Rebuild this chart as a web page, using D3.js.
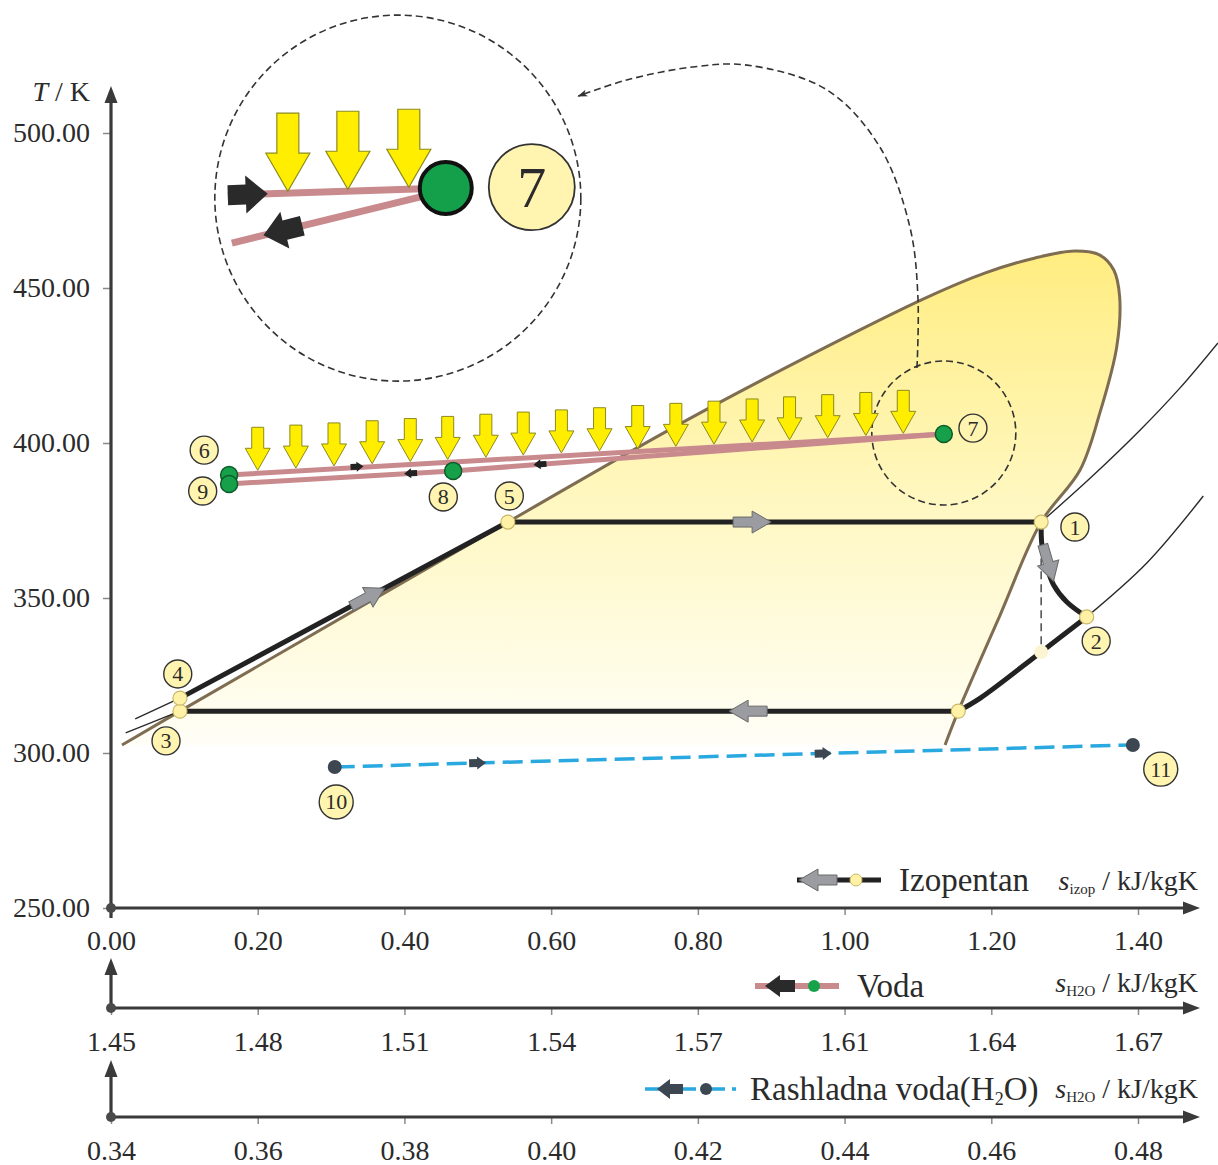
<!DOCTYPE html>
<html><head><meta charset="utf-8">
<script src="https://cdn.jsdelivr.net/npm/d3@7"></script>
<style>
body{margin:0;background:#fff}
svg{display:block}
text{font-family:"Liberation Serif","Times New Roman",serif;fill:#2b2b2b}
</style>
</head><body>
<svg id="chart" width="1218" height="1165"></svg>
<script>
// ---------------- DATA ----------------
const izopTicks = [0, 0.2, 0.4, 0.6, 0.8, 1.0, 1.2, 1.4];
const tempTicks = [250, 300, 350, 400, 450, 500];
const vodaTickLabels = ["1.45","1.48","1.51","1.54","1.57","1.61","1.64","1.67"];
const rashTicks = [0.34, 0.36, 0.38, 0.40, 0.42, 0.44, 0.46, 0.48];

// saturation dome of isopentane [s, T]
const saturationDome = [[0.015,302.6],[0.094,313.5],[0.541,374.5],[0.785,407.4],[1.021,436.5],[1.116,447.4],
  [1.191,454.8],[1.260,459.7],[1.314,461.9],[1.348,460.6],[1.367,455.8],[1.375,447.1],[1.371,431.0],[1.348,409.7],
  [1.321,391.3],[1.268,374.5],[1.212,344.5],[1.155,313.5],[1.137,302.6]];
// cycle state points (isopentane)
const cyclePoints = {1:[1.268,374.5], 2:[1.330,343.9], 3:[0.094,313.5], 4:[0.094,317.7], 5:[0.541,374.5]};
const condensStart = [1.155,313.5];
const isentropicEnd = [1.268,332.6];
const expansionLine = [[1.268,374.5],[1.269,367.1],[1.275,360.6],[1.285,354.2],[1.303,348.7],[1.330,343.9]];
const desuperheatLine = [[1.330,343.9],[1.268,332.6],[1.185,317.7],[1.155,313.5]];
const highIsobarThin = [[1.268,374.5],[1.335,388.7],[1.403,404.2],[1.457,417.7],[1.509,432.3]];
const highIsobarLeft = [[0.033,311.0],[0.094,317.7]];
const lowIsobarThin = [[1.330,343.9],[1.412,361.3],[1.489,382.9]];
const lowIsobarLeft = [[0.020,306.5],[0.094,313.5]];
const labelPos = {1:[1.314,372.9],2:[1.343,336.1],3:[0.075,303.9],4:[0.091,325.5],5:[0.543,382.9]};

// water (heat source), on s_H2O scale
const waterPoints = {6:[1.4753,389.7], 7:[1.6284,402.9], 8:[1.5233,391.0], 9:[1.4753,386.8]};
const waterLabelPos = {6:[0.127,397.7],7:[1.175,404.8],8:[0.453,382.6],9:[0.125,384.5]};
const heatArrowS = [0.200,0.252,0.304,0.356,0.408,0.459,0.511,0.562,0.614,0.666,0.718,0.770,0.822,0.874,0.925,0.977,1.029,1.080];

// cooling water, on second s_H2O scale
const coolingPoints = {10:[0.3705,295.5], 11:[0.4793,302.6]};
const coolingLabelPos = {10:[0.307,284.2], 11:[1.431,294.8]};

// callout (zoom) geometry
const calloutPath = [[1.0987,424.2],[1.100,447.1],[1.089,469.7],[1.048,495.5],[0.976,513.9],[0.867,521.9],[0.793,521.3],[0.703,517.1],[0.637,511.9]];
const zoomCenter = [0.391,479.0];

// ---------------- SCALES ----------------
const svg = d3.select("#chart");
const X0 = 111, X1 = 1138;
const x = d3.scaleLinear().domain([0,1.4]).range([X0,X1]);
const y = d3.scaleLinear().domain([250,500]).range([908,133]);
const xW = d3.scaleLinear().domain([1.45,1.67]).range([X0,X1]);
const xWticks = d3.scalePoint().domain(vodaTickLabels).range([X0,X1]);
const xC = d3.scaleLinear().domain([0.34,0.48]).range([X0,X1]);

const defs = svg.append("defs");
const grad = defs.append("linearGradient").attr("id","domeGrad").attr("gradientUnits","userSpaceOnUse")
  .attr("x1",0).attr("y1",y(462)).attr("x2",0).attr("y2",y(302));
grad.append("stop").attr("offset","0").attr("stop-color","#ffed80");
grad.append("stop").attr("offset","0.5").attr("stop-color","#fff7c0");
grad.append("stop").attr("offset","1").attr("stop-color","#fffef7");
defs.append("marker").attr("id","callHead").attr("viewBox","0 0 10 10").attr("refX",9).attr("refY",5)
  .attr("markerWidth",16).attr("markerHeight",10).attr("markerUnits","userSpaceOnUse").attr("orient","auto")
  .append("path").attr("d","M0,1.5L10,5L0,8.5L2.5,5Z").attr("fill","#333");

function arrowPath(len,bw,hw,hl){
  const a=-len/2, h=len/2-hl, b=len/2;
  return `M${a},${-bw/2}L${h},${-bw/2}L${h},${-hw/2}L${b},0L${h},${hw/2}L${h},${bw/2}L${a},${bw/2}Z`;
}
function drawArrow(g,cx,cy,angle,len,bw,hw,hl,fill,stroke,sw){
  g.append("path").attr("d",arrowPath(len,bw,hw,hl))
   .attr("transform",`translate(${cx},${cy}) rotate(${angle})`)
   .attr("fill",fill).attr("stroke",stroke||"none").attr("stroke-width",sw||1).attr("stroke-linejoin","miter");
}
function angleOf(p,q){return Math.atan2(q[1]-p[1],q[0]-p[0])*180/Math.PI;}
function lerp(p,q,t){return [p[0]+(q[0]-p[0])*t,p[1]+(q[1]-p[1])*t];}

const pxI = d => [x(d[0]), y(d[1])];
const pxW = d => [xW(d[0]), y(d[1])];
const pxC = d => [xC(d[0]), y(d[1])];
const lineI = d3.line().x(d=>x(d[0])).y(d=>y(d[1])).curve(d3.curveCatmullRom.alpha(0.5));

// ---------------- DOME ----------------
svg.append("path").attr("d",lineI(saturationDome)+"Z").attr("fill","url(#domeGrad)").attr("stroke","none");
svg.append("path").attr("d",lineI(saturationDome)).attr("fill","none").attr("stroke","#7f6d52").attr("stroke-width",3);

// thin isobars
[highIsobarThin, highIsobarLeft, lowIsobarThin, lowIsobarLeft].forEach(l=>{
  svg.append("path").attr("d",lineI(l)).attr("fill","none").attr("stroke","#2a2a2a").attr("stroke-width",1.4);
});

// ---------------- AXES ----------------
const axCol="#3a3a3a";
function styleAxis(g){
  g.select(".domain").remove();
  g.selectAll(".tick line").attr("stroke","#8a8a8a").attr("stroke-width",1.5);
  g.selectAll(".tick text").attr("font-size",28).attr("fill","#2b2b2b").attr("font-family","Liberation Serif, serif");
}
svg.append("g").attr("transform","translate(0,908)")
  .call(d3.axisBottom(x).tickValues(izopTicks).tickFormat(d3.format(".2f")).tickSize(7).tickPadding(15)).call(styleAxis);
svg.append("g").attr("transform","translate(0,1008)")
  .call(d3.axisBottom(xWticks).tickSize(7).tickPadding(16)).call(styleAxis);
svg.append("g").attr("transform","translate(0,1117)")
  .call(d3.axisBottom(xC).tickValues(rashTicks).tickFormat(d3.format(".2f")).tickSize(7).tickPadding(16)).call(styleAxis);
svg.append("g").attr("transform",`translate(${X0},0)`)
  .call(d3.axisLeft(y).tickValues(tempTicks).tickFormat(d3.format(".2f")).tickSize(8).tickPadding(13)).call(styleAxis);

function axisLine(x1,y1,x2,y2){
  const ang=Math.atan2(y2-y1,x2-x1);
  const hl=17, hw=6.5;
  const bx=x2-hl*Math.cos(ang), by=y2-hl*Math.sin(ang);
  svg.append("line").attr("x1",x1).attr("y1",y1).attr("x2",bx+3*Math.cos(ang)).attr("y2",by+3*Math.sin(ang))
    .attr("stroke",axCol).attr("stroke-width",3.2);
  const nx=-Math.sin(ang), ny=Math.cos(ang);
  svg.append("path").attr("d",`M${x2},${y2}L${bx+nx*hw},${by+ny*hw}L${bx-nx*hw},${by-ny*hw}Z`).attr("fill",axCol);
}
axisLine(X0,918,X0,86);
axisLine(X0,908,1200,908);
axisLine(X0,1008,1200,1008);
axisLine(X0,1012,X0,958);
axisLine(X0,1117,1200,1117);
axisLine(X0,1121,X0,1060);
[908,1008,1117].forEach(v=>svg.append("circle").attr("cx",X0).attr("cy",v).attr("r",5).attr("fill","#4a4a4a"));

// axis titles
const tT = svg.append("text").attr("x",90).attr("y",101).attr("text-anchor","end").attr("font-size",28);
tT.append("tspan").attr("font-style","italic").text("T");
tT.append("tspan").text(" / K");

function unitLabel(yb, sub){
  const t = svg.append("text").attr("x",1198).attr("y",yb).attr("text-anchor","end").attr("font-size",28);
  t.append("tspan").attr("font-style","italic").text("s");
  t.append("tspan").attr("font-size",15).attr("dy",4).text(sub);
  t.append("tspan").attr("dy",-4).text(" / kJ/kgK");
}
unitLabel(890,"izop");
unitLabel(992,"H2O");
unitLabel(1098,"H2O");

// legends
function legendText(xp,yb,txt){
  return svg.append("text").attr("x",xp).attr("y",yb).attr("font-size",33).text(txt);
}
svg.append("line").attr("x1",797).attr("x2",881).attr("y1",880).attr("y2",880).attr("stroke","#222").attr("stroke-width",5);
drawArrow(svg,818,880,180,38,10,22,19,"#9a9ca1","#6a6a6a",1);
svg.append("circle").attr("cx",856).attr("cy",880).attr("r",6).attr("fill","#fff2a6").attr("stroke","#c8b86a");
legendText(899,891,"Izopentan");
svg.append("line").attr("x1",755).attr("x2",839).attr("y1",986).attr("y2",986).attr("stroke","#c98a8d").attr("stroke-width",6);
drawArrow(svg,780,986,180,30,12,22,15,"#2a2a2a");
svg.append("circle").attr("cx",814).attr("cy",986).attr("r",6).attr("fill","#16a34a");
legendText(857,997,"Voda");
svg.append("line").attr("x1",645).attr("x2",736).attr("y1",1089).attr("y2",1089).attr("stroke","#2aa8e0").attr("stroke-width",3.5).attr("stroke-dasharray","22,7");
drawArrow(svg,670,1089,180,26,10,20,13,"#3c4752");
svg.append("circle").attr("cx",706).attr("cy",1089).attr("r",6).attr("fill","#3c4752");
const rl = legendText(750,1100,"Rashladna voda(H");
rl.append("tspan").attr("font-size",18).attr("dy",5).text("2");
rl.append("tspan").attr("dy",-5).text("O)");

// ---------------- ZOOM CIRCLES & CALLOUT ----------------
const p7 = pxW(waterPoints[7]);
svg.append("circle").attr("cx",p7[0]).attr("cy",p7[1]-1).attr("r",72).attr("fill","none")
  .attr("stroke","#333").attr("stroke-width",1.6).attr("stroke-dasharray","7,4");
svg.append("path").attr("d",d3.line().x(d=>x(d[0])).y(d=>y(d[1])).curve(d3.curveCatmullRom.alpha(0.5))(calloutPath))
  .attr("fill","none").attr("stroke","#333").attr("stroke-width",1.6).attr("stroke-dasharray","7,4").attr("marker-end","url(#callHead)");
const zc=[x(zoomCenter[0]), y(zoomCenter[1])], R=183;
svg.append("circle").attr("cx",zc[0]).attr("cy",zc[1]).attr("r",R).attr("fill","none")
  .attr("stroke","#333").attr("stroke-width",1.6).attr("stroke-dasharray","7,4");

// ---------------- COOLING WATER ----------------
const c10=pxC(coolingPoints[10]), c11=pxC(coolingPoints[11]);
svg.append("line").attr("x1",c10[0]).attr("y1",c10[1]).attr("x2",c11[0]).attr("y2",c11[1])
  .attr("stroke","#2aa8e0").attr("stroke-width",3.5).attr("stroke-dasharray","20,8");
[0.179,0.612].forEach(t=>{const p=lerp(c10,c11,t); drawArrow(svg,p[0],p[1],angleOf(c10,c11),17,8,13,9,"#3c4752");});
[c10,c11].forEach(p=>svg.append("circle").attr("cx",p[0]).attr("cy",p[1]).attr("r",7).attr("fill","#3c4752"));

// ---------------- WATER (HEAT SOURCE) ----------------
const w6=pxW(waterPoints[6]), w7=pxW(waterPoints[7]), w8=pxW(waterPoints[8]), w9=pxW(waterPoints[9]);
const pink="#c98a8d";
svg.append("line").attr("x1",w6[0]).attr("y1",w6[1]).attr("x2",w7[0]).attr("y2",w7[1]).attr("stroke",pink).attr("stroke-width",5);
svg.append("polyline").attr("points",[w7,w8,w9].map(p=>p.join(",")).join(" ")).attr("fill","none").attr("stroke",pink).attr("stroke-width",5);
{ const p=lerp(w6,w7,0.179); drawArrow(svg,p[0],p[1]-1,angleOf(w6,w7),13,6,10,7,"#222"); }
{ const p=lerp(w8,w9,0.19); drawArrow(svg,p[0],p[1],angleOf(w8,w9),13,6,10,7,"#222"); }
{ const p=lerp(w7,w8,0.823); drawArrow(svg,p[0],p[1],angleOf(w7,w8),13,6,10,7,"#222"); }
heatArrowS.forEach(s=>{
  const px=x(s); const t=(px-w6[0])/(w7[0]-w6[0]); const tipY=w6[1]+(w7[1]-w6[1])*t-3;
  drawArrow(svg,px,tipY-21.5,90,43,12,25,22,"#ffee00","#8c8a1c",1);
});

// ---------------- CYCLE ----------------
function thickPath(pts,curve){
  svg.append("path").attr("d",d3.line().x(d=>x(d[0])).y(d=>y(d[1])).curve(curve||d3.curveLinear)(pts))
   .attr("fill","none").attr("stroke","#222").attr("stroke-width",5);
}
const P = k=>cyclePoints[k];
thickPath([P(3),P(4),P(5),P(1)]);
thickPath(expansionLine, d3.curveCatmullRom.alpha(0.5));
thickPath(desuperheatLine, d3.curveCatmullRom.alpha(0.5));
thickPath([condensStart,P(3)]);
svg.append("line").attr("x1",x(P(1)[0])).attr("x2",x(isentropicEnd[0])).attr("y1",y(367.0)).attr("y2",y(isentropicEnd[1]))
  .attr("stroke","#555").attr("stroke-width",1.6).attr("stroke-dasharray","8,5");
const grey="#9a9ca1", greyS="#6a6a6a";
{ const a=pxI(P(4)), b=pxI(P(5)), p=lerp(a,b,0.573); drawArrow(svg,p[0],p[1],angleOf(a,b),38,10,22,19,grey,greyS,1); }
{ const a=pxI(P(5)), b=pxI(P(1)), p=lerp(a,b,0.458); drawArrow(svg,p[0],p[1],angleOf(a,b),38,10,22,19,grey,greyS,1); }
{ const a=pxI(condensStart), b=pxI(P(3)), p=lerp(a,b,0.27); drawArrow(svg,p[0],p[1],angleOf(a,b),38,10,22,19,grey,greyS,1); }
{ const a=pxI(expansionLine[1]), b=pxI(expansionLine[3]), p=lerp(a,b,0.45); drawArrow(svg,p[0]+1,p[1],angleOf(a,b),38,10,22,19,grey,greyS,1); }

svg.append("circle").attr("cx",x(isentropicEnd[0])).attr("cy",y(isentropicEnd[1])).attr("r",7).attr("fill","#fdf5d2");
[1,2,3,4,5].forEach(k=>{
  const p=pxI(P(k));
  svg.append("circle").attr("cx",p[0]).attr("cy",p[1]).attr("r",7).attr("fill","#fff2a6").attr("stroke","#c8b86a").attr("stroke-width",1.2);
});
svg.append("circle").attr("cx",x(condensStart[0])).attr("cy",y(condensStart[1])).attr("r",7).attr("fill","#fff2a6").attr("stroke","#c8b86a").attr("stroke-width",1.2);
[w6,w9,w8,w7].forEach(p=>svg.append("circle").attr("cx",p[0]).attr("cy",p[1]).attr("r",8.5).attr("fill","#17a04a").attr("stroke","#0d5a2a").attr("stroke-width",1.5));

function bubble(px,py,label){
  const r = label.length>1 ? 17 : 14;
  svg.append("circle").attr("cx",px).attr("cy",py).attr("r",r).attr("fill","#fff5b0").attr("stroke","#333").attr("stroke-width",1.4);
  svg.append("text").attr("x",px).attr("y",py+7.5).attr("text-anchor","middle").attr("font-size",22).text(label);
}
Object.entries(labelPos).forEach(([k,v])=>bubble(x(v[0]),y(v[1]),k));
Object.entries(waterLabelPos).forEach(([k,v])=>bubble(x(v[0]),y(v[1]),k));
Object.entries(coolingLabelPos).forEach(([k,v])=>bubble(x(v[0]),y(v[1]),k));

// ---------------- INSET (magnified point 7) ----------------
const U = u=>zc[0]+u*R, V = v=>zc[1]+v*R;
const insUp=[[-0.929,-0.016],[0.262,-0.055]], insLow=[[-0.907,0.246],[0.230,-0.033]];
const inset = svg.append("g");
[insUp,insLow].forEach(l=>inset.append("line").attr("x1",U(l[0][0])).attr("y1",V(l[0][1])).attr("x2",U(l[1][0])).attr("y2",V(l[1][1]))
  .attr("stroke",pink).attr("stroke-width",7));
const upA=[U(insUp[0][0]),V(insUp[0][1])], upB=[U(insUp[1][0]),V(insUp[1][1])];
[-0.601,-0.273,0.060].forEach(u=>{
  const px=U(u), t=(px-upA[0])/(upB[0]-upA[0]), tipY=upA[1]+(upB[1]-upA[1])*t-2;
  drawArrow(inset,px,tipY-39,90,78,22,44,38,"#ffee00","#8c8a1c",1.2);
});
{ const t=(U(-0.820)-upA[0])/(upB[0]-upA[0]); const p=lerp(upA,upB,t); drawArrow(inset,p[0],p[1],angleOf(upA,upB),40,20,38,22,"#2a2a2a"); }
{ const a=[U(insLow[1][0]),V(insLow[1][1])], b=[U(insLow[0][0]),V(insLow[0][1])];
  const t=(U(-0.628)-a[0])/(b[0]-a[0]); const p=lerp(a,b,t); drawArrow(inset,p[0],p[1],angleOf(a,b),40,20,38,22,"#2a2a2a"); }
inset.append("circle").attr("cx",U(0.262)).attr("cy",V(-0.055)).attr("r",0.142*R).attr("fill","#14a04a").attr("stroke","#111").attr("stroke-width",4);
inset.append("circle").attr("cx",U(0.732)).attr("cy",V(-0.060)).attr("r",0.235*R).attr("fill","#fff5b0").attr("stroke","#333").attr("stroke-width",1.8);
inset.append("text").attr("x",U(0.732)).attr("y",V(-0.060)+20).attr("text-anchor","middle").attr("font-size",58).text("7");
</script>
</body></html>
